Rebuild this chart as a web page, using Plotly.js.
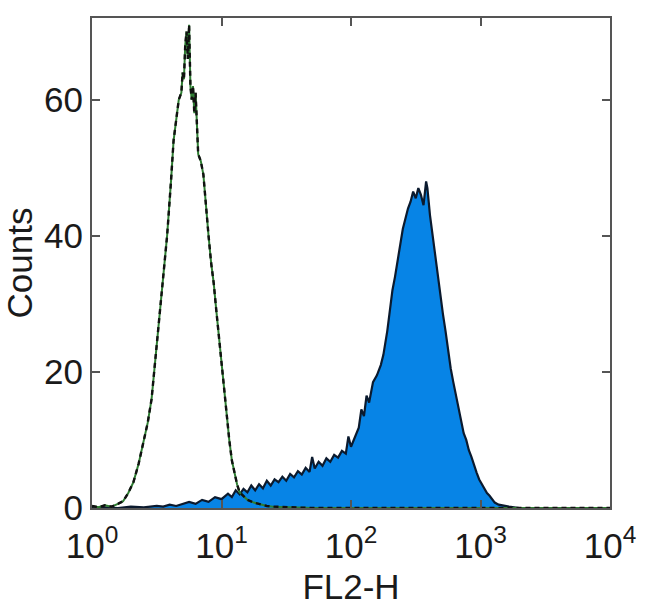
<!DOCTYPE html>
<html>
<head>
<meta charset="utf-8">
<script src="https://cdn.plot.ly/plotly-3.0.1.min.js"></script>
<style>html,body{margin:0;padding:0;background:#fff;}#chart{width:650px;height:615px;}</style>
</head>
<body>
<div id="chart"></div>
<script>
// Isotype control histogram: log10(FL2-H) positions and counts
const controlLogFL2 = [0,0.05,0.1,0.15,0.2,0.24,0.28,0.32,0.36,0.40,0.43,0.46,0.49,0.52,0.55,0.58,0.61,0.63,0.65,0.67,0.69,0.70,0.71,0.72,0.73,0.74,0.75,0.76,0.77,0.78,0.79,0.80,0.82,0.84,0.86,0.88,0.90,0.92,0.94,0.96,0.98,1.00,1.02,1.04,1.06,1.08,1.10,1.12,1.14,1.17,1.20,1.25,1.30,1.35,1.40,1.50,1.60,1.70,2.0,3.0,4.0];
const controlCounts = [0.3,0.1,0.4,0.2,0.6,1.0,2.2,3.8,6.5,10,12.5,16,22,27,33,40,48,54,57,60,61,64,63,68,70,66,71,62,60,62,58,61,52,51,49,44,40,36,33,29,25,21,17,14,10,7,5,3.5,2.3,1.8,1.2,0.8,0.5,0.3,0.2,0.1,0,0,0,0,0];

// Stained sample histogram
const stainedLogFL2 = [0.00,0.10,0.20,0.30,0.40,0.50,0.55,0.60,0.65,0.70,0.75,0.80,0.85,0.90,0.95,1.00,1.05,1.08,1.11,1.14,1.17,1.20,1.23,1.26,1.29,1.32,1.35,1.38,1.41,1.44,1.47,1.50,1.53,1.56,1.59,1.62,1.65,1.68,1.70,1.72,1.75,1.78,1.81,1.84,1.87,1.90,1.93,1.96,1.98,2.00,2.03,2.06,2.08,2.10,2.12,2.14,2.17,2.20,2.23,2.25,2.28,2.30,2.32,2.34,2.36,2.38,2.40,2.42,2.44,2.46,2.48,2.50,2.52,2.54,2.56,2.58,2.59,2.61,2.63,2.65,2.67,2.69,2.71,2.73,2.75,2.77,2.79,2.81,2.83,2.85,2.87,2.89,2.91,2.93,2.95,2.97,2.99,3.01,3.03,3.05,3.07,3.09,3.11,3.14,3.18,3.22,3.26,3.30,3.50,4.00];
const stainedCounts = [0,0.1,0,0.2,0.1,0.3,0.2,0.5,0.3,0.6,0.9,0.6,1.2,0.9,1.6,1.3,2.1,1.6,2.6,2.0,2.8,2.3,3.3,2.6,3.5,2.9,4.0,3.3,4.2,3.8,4.6,4.0,5.0,4.5,5.4,4.9,5.9,5.3,7.5,5.8,6.8,6.2,7.3,6.8,7.8,7.4,8.4,8.0,10.5,9.0,10.5,11.8,14.5,13.5,16.5,15.5,18.5,19.5,21,22.5,26,29.5,32,34,36.5,38.5,41,42.5,44,45,46.5,45.5,47,46,44.5,48,47,43,40,37,34,31,28.5,26,23,20.5,18.5,16.5,14.5,12.5,11,10,8.5,7.5,6.2,5.2,4.2,3.5,3.0,2.2,1.8,1.2,0.8,0.5,0.3,0.2,0.1,0,0,0];

const xTickVals = [1,10,100,1000,10000];
const xTickText = ['10<sup>0</sup>','10<sup>1</sup>','10<sup>2</sup>','10<sup>3</sup>','10<sup>4</sup>'];
const yTickVals = [0,20,40,60];

const toLin = a => a.map(v => Math.pow(10, v));
const controlX = toLin(controlLogFL2);
const stainedX = toLin(stainedLogFL2);

const traces = [
  {x: stainedX, y: stainedCounts, type: 'scatter', mode: 'lines', fill: 'tozeroy',
   fillcolor: '#0784e6', line: {color: '#0b1a2e', width: 2.2}, hoverinfo: 'skip'},
  {x: controlX, y: controlCounts, type: 'scatter', mode: 'lines',
   line: {color: '#2e7d32', width: 2}, hoverinfo: 'skip'},
  {x: controlX, y: controlCounts, type: 'scatter', mode: 'lines',
   line: {color: '#111', width: 2.4, dash: '5px,4px'}, hoverinfo: 'skip'}
];

const fontFam = 'Liberation Sans, Arial, Helvetica, sans-serif';
const txtColor = '#1a1a1a';
const layout = {
  width: 650, height: 615,
  margin: {l: 92, r: 40, t: 18, b: 107},
  paper_bgcolor: '#fff', plot_bgcolor: '#fff',
  showlegend: false,
  font: {family: fontFam, size: 35, color: txtColor},
  xaxis: {
    type: 'log', range: [0, 4],
    tickvals: xTickVals, ticktext: xTickText,
    ticks: 'inside', ticklen: 8, tickwidth: 2, tickcolor: '#555',
    showline: true, linecolor: '#555', linewidth: 2, mirror: 'ticks',
    showgrid: false, zeroline: false,
    ticklabelstandoff: 6,
    tickfont: {size: 35, color: txtColor},
    title: {text: 'FL2-H', font: {size: 35, color: txtColor}, standoff: 10}
  },
  yaxis: {
    range: [0, 72],
    tickvals: yTickVals,
    ticks: 'inside', ticklen: 8, tickwidth: 2, tickcolor: '#555',
    showline: true, linecolor: '#555', linewidth: 2, mirror: 'ticks',
    showgrid: false, zeroline: false,
    tickfont: {size: 35, color: txtColor},
    title: {text: 'Counts', font: {size: 35, color: txtColor}, standoff: 4}
  }
};

Plotly.newPlot('chart', traces, layout, {staticPlot: true, displayModeBar: false});
</script>
</body>
</html>
